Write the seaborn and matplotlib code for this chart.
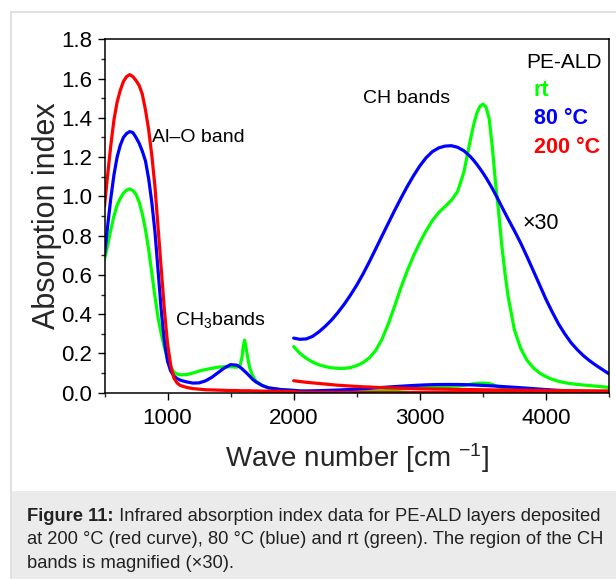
import matplotlib
matplotlib.use("Agg")
import matplotlib.pyplot as plt
from matplotlib.patches import Rectangle
from matplotlib.ticker import MultipleLocator
import pandas as pd
import seaborn as sns

# Al–O and CH3 region: absorption index as measured
wn_low = [500, 525, 550, 575, 600, 625, 650, 675, 700, 725, 750, 775, 800, 825, 850,
          875, 900, 925, 950, 975, 1000, 1025, 1050, 1075, 1100, 1150, 1200, 1250,
          1300, 1350, 1400, 1450, 1500, 1550, 1575, 1590, 1600, 1610, 1620, 1635,
          1650, 1675, 1700, 1750, 1800, 1900, 2000]
k_low_rt = [0.68, 0.75, 0.83, 0.90, 0.955, 0.99, 1.016, 1.032, 1.038, 1.03, 1.01, 0.97,
            0.91, 0.83, 0.73, 0.61, 0.49, 0.38, 0.30, 0.23, 0.17, 0.13, 0.105, 0.095,
            0.091, 0.092, 0.10, 0.11, 0.118, 0.124, 0.13, 0.132, 0.132, 0.13, 0.14,
            0.18, 0.235, 0.268, 0.24, 0.18, 0.13, 0.085, 0.06, 0.036, 0.024, 0.015, 0.011]
k_low_80 = [0.70, 0.85, 0.99, 1.11, 1.20, 1.26, 1.30, 1.32, 1.33, 1.325, 1.30, 1.27,
            1.23, 1.18, 1.09, 0.97, 0.82, 0.62, 0.42, 0.26, 0.16, 0.11, 0.085, 0.072,
            0.064, 0.055, 0.049, 0.050, 0.060, 0.078, 0.102, 0.126, 0.143, 0.14, 0.13,
            0.122, 0.116, 0.11, 0.104, 0.095, 0.085, 0.068, 0.055, 0.037, 0.025, 0.016,
            0.012]
k_low_200 = [0.95, 1.11, 1.26, 1.39, 1.48, 1.54, 1.585, 1.61, 1.62, 1.61, 1.59, 1.565,
             1.52, 1.44, 1.34, 1.21, 1.05, 0.84, 0.63, 0.42, 0.25, 0.14, 0.075, 0.05,
             0.037, 0.027, 0.021, 0.018, 0.015, 0.014, 0.013, 0.012, 0.011, 0.011, 0.010,
             0.010, 0.010, 0.010, 0.010, 0.010, 0.010, 0.009, 0.009, 0.008, 0.008, 0.007,
             0.006]

# CH stretching region, values as displayed (magnified x30)
wn_ch = [2000, 2050, 2100, 2150, 2200, 2250, 2300, 2350, 2400, 2450, 2500, 2550, 2600,
         2650, 2700, 2750, 2800, 2850, 2900, 2950, 3000, 3050, 3100, 3150, 3200, 3250,
         3300, 3350, 3400, 3425, 3450, 3475, 3500, 3525, 3550, 3575, 3600, 3625, 3650,
         3675, 3700, 3750, 3800, 3850, 3900, 3950, 4000, 4050, 4100, 4150, 4200, 4250,
         4300, 4350, 4400, 4450, 4500]
k_ch30_rt = [0.235, 0.200, 0.175, 0.156, 0.142, 0.133, 0.127, 0.124, 0.124, 0.128,
             0.138, 0.153, 0.178, 0.215, 0.272, 0.350, 0.440, 0.535, 0.620, 0.697,
             0.765, 0.825, 0.877, 0.918, 0.948, 0.980, 1.025, 1.125, 1.285, 1.360,
             1.420, 1.457, 1.470, 1.455, 1.395, 1.250, 1.070, 0.920, 0.750, 0.610,
             0.490, 0.320, 0.225, 0.165, 0.127, 0.100, 0.082, 0.068, 0.058, 0.051,
             0.046, 0.042, 0.039, 0.036, 0.033, 0.030, 0.027]
k_ch30_80 = [0.278, 0.272, 0.274, 0.287, 0.310, 0.338, 0.370, 0.408, 0.450, 0.497,
             0.548, 0.605, 0.667, 0.732, 0.798, 0.863, 0.928, 0.990, 1.050, 1.105,
             1.155, 1.197, 1.228, 1.247, 1.256, 1.258, 1.250, 1.232, 1.203, 1.185,
             1.165, 1.143, 1.120, 1.095, 1.068, 1.040, 1.010, 0.979, 0.947, 0.916,
             0.885, 0.825, 0.762, 0.693, 0.621, 0.549, 0.476, 0.411, 0.350, 0.299,
             0.254, 0.218, 0.187, 0.161, 0.138, 0.117, 0.096]
k_ch30_200 = [0.061, 0.057, 0.053, 0.050, 0.047, 0.044, 0.041, 0.038, 0.036, 0.034,
              0.032, 0.030, 0.029, 0.027, 0.026, 0.025, 0.024, 0.023, 0.022, 0.021,
              0.020, 0.0195, 0.019, 0.0185, 0.018, 0.0175, 0.017, 0.0165, 0.016,
              0.0158, 0.0155, 0.0152, 0.015, 0.0148, 0.0145, 0.0142, 0.014, 0.0138,
              0.0137, 0.0135, 0.0134, 0.013, 0.0127, 0.0124, 0.012, 0.0118, 0.0115,
              0.0112, 0.011, 0.0108, 0.0105, 0.0102, 0.010, 0.0098, 0.0095, 0.0092,
              0.009]
ch_factor = 30

samples = ["rt", "80 °C", "200 °C"]
colors = ["#00ff00", "#0000ff", "#ff0000"]
low_sets = [k_low_rt, k_low_80, k_low_200]
ch_sets = [k_ch30_rt, k_ch30_80, k_ch30_200]

rows = []
for name, k_low, k_ch in zip(samples, low_sets, ch_sets):
    # full spectrum at true scale
    for w, k in zip(wn_low, k_low):
        rows.append((name, "x1", w, k))
    for w, k in zip(wn_ch[1:], k_ch[1:]):
        rows.append((name, "x1", w, k / ch_factor))
    # magnified CH bands
    for w, k in zip(wn_ch, k_ch):
        rows.append((name, "x30", w, k))
df = pd.DataFrame(rows, columns=["sample", "segment", "wavenumber", "k"])

sns.set_style("ticks")
plt.rcParams["font.family"] = ["Liberation Sans", "DejaVu Sans"]
plt.rcParams["mathtext.fontset"] = "custom"
plt.rcParams["mathtext.rm"] = "Liberation Sans"
plt.rcParams["mathtext.it"] = "Liberation Sans:italic"
plt.rcParams["mathtext.bf"] = "Liberation Sans:bold"

W, H = 616, 579
fig = plt.figure(figsize=(W / 100, H / 100), dpi=100)
fig.patch.set_facecolor("white")

# page frame and caption panel
fig.add_artist(Rectangle((11 / W, -0.01), 1.0, (579 - 12) / H + 0.01,
                         transform=fig.transFigure, facecolor="none",
                         edgecolor="#dedede", lw=1.3, zorder=0))
fig.add_artist(Rectangle((12 / W, 0), 1.0, (579 - 491) / H,
                         transform=fig.transFigure, facecolor="#ebebeb",
                         edgecolor="none", zorder=0))

ax_l, ax_r, ax_t, ax_b = 104.5, 609.0, 39.3, 392.7
ax = fig.add_axes([ax_l / W, 1 - ax_b / H, (ax_r - ax_l) / W, (ax_b - ax_t) / H])

sns.lineplot(data=df, x="wavenumber", y="k", hue="sample", units="segment",
             estimator=None, sort=False, hue_order=samples,
             palette=dict(zip(samples, colors)), lw=2.3, legend=False, ax=ax)

ax.set_xlim(500, 4500)
ax.set_ylim(0, 1.8)
ax.xaxis.set_major_locator(MultipleLocator(1000))
ax.xaxis.set_minor_locator(MultipleLocator(500))
ax.yaxis.set_major_locator(MultipleLocator(0.2))
ax.yaxis.set_minor_locator(MultipleLocator(0.1))
ax.yaxis.set_major_formatter(lambda v, p: f"{v:.1f}")
for s in ax.spines.values():
    s.set_visible(True)
    s.set_linewidth(1.1)
    s.set_color("black")
ax.tick_params(which="major", direction="out", length=5, width=1.0, labelsize=16,
               colors="black")
ax.tick_params(which="minor", direction="out", length=2.6, width=1.0)
ax.tick_params(axis="x", which="major", pad=6)
ax.tick_params(axis="y", which="major", pad=4)

ax.set_xlabel("Wave number [cm $^{-1}$]", fontsize=20, labelpad=9)
ax.set_ylabel("Absorption index", fontsize=22)
ax.yaxis.set_label_coords(-0.084, 0.5)

txt = dict(ha="left", va="center", color="black")
ax.text(876, 1.30, "Al–O band", fontsize=14, **txt)
ax.text(2548, 1.496, "CH bands", fontsize=14, **txt)
ax.text(1059, 0.37, "CH$_3$bands", fontsize=14, **txt)
ax.text(3816, 0.864, "×30", fontsize=15.5, **txt)
ax.text(3840, 1.684, "PE-ALD", fontsize=15, **txt)
for label, c, y in zip(samples, colors, [1.54, 1.395, 1.25]):
    ax.text(3903, y, label, fontsize=15.5, fontweight="bold", color=c,
            ha="left", va="center")

# caption
cap_fs = 13.2
cap_color = "#222222"
cx = 27 / W
head = fig.text(cx, 1 - 520.7 / H, "Figure 11:", fontsize=cap_fs, fontweight="bold",
                color=cap_color, va="baseline", ha="left")
ax.annotate(" Infrared absorption index data for PE-ALD layers deposited",
            xy=(1, 0), xycoords=head, ha="left", va="bottom", fontsize=cap_fs,
            color=cap_color, annotation_clip=False)
fig.text(cx, 1 - 544.0 / H,
         "at 200 °C (red curve), 80 °C (blue) and rt (green). The region of the CH",
         fontsize=cap_fs, color=cap_color, va="baseline", ha="left")
fig.text(cx, 1 - 567.5 / H, "bands is magnified (×30).", fontsize=cap_fs,
         color=cap_color, va="baseline", ha="left")

fig.savefig("out.png", dpi=100)
